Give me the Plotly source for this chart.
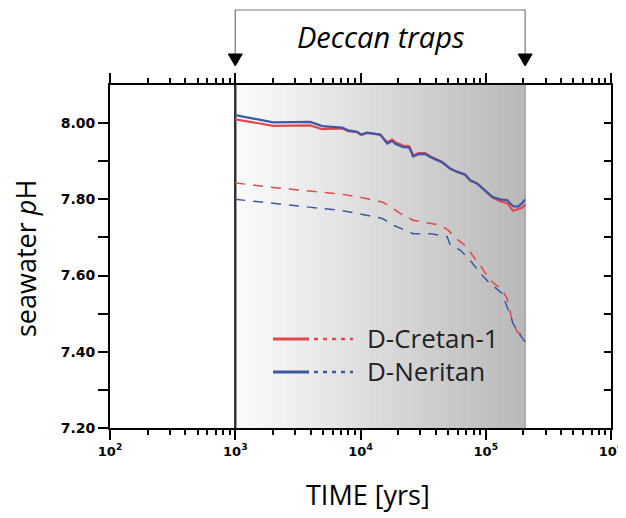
import plotly.graph_objects as go
import numpy as np

# ---------------- data ----------------
t_red_solid = [1000, 2010, 3970, 4946, 7145, 7978, 9415, 10130, 11300, 14360, 16330, 17900, 18920,
               21920, 24470, 26350, 28890, 32840, 35980, 40930, 44890, 51970, 59130, 68510, 75150,
               85410, 98900, 112500, 130300, 148200, 165500, 181500, 195000, 206300]
ph_red_solid = [8.010, 7.993, 7.994, 7.984, 7.986, 7.979, 7.976, 7.969, 7.974, 7.970, 7.950, 7.957, 7.950,
                7.941, 7.940, 7.915, 7.921, 7.921, 7.913, 7.903, 7.898, 7.880, 7.872, 7.864, 7.849,
                7.841, 7.822, 7.805, 7.795, 7.790, 7.770, 7.775, 7.778, 7.786]

t_blue_solid = t_red_solid
ph_blue_solid = [8.021, 8.002, 8.003, 7.992, 7.988, 7.981, 7.977, 7.970, 7.975, 7.970, 7.946, 7.953, 7.946,
                 7.937, 7.936, 7.912, 7.918, 7.919, 7.911, 7.903, 7.897, 7.881, 7.872, 7.865, 7.850,
                 7.842, 7.824, 7.807, 7.800, 7.798, 7.782, 7.781, 7.790, 7.800]

t_red_dash = [1000, 1583, 2286, 3426, 4767, 6886, 9415, 11950, 14890, 16630, 20740, 26350, 35980,
              43270, 50100, 59130, 71080, 77980, 90260, 108400, 135200, 148200, 162400, 178100, 206300]
ph_red_dash = [7.843, 7.835, 7.829, 7.824, 7.820, 7.814, 7.807, 7.800, 7.793, 7.785, 7.763, 7.745, 7.738,
               7.732, 7.719, 7.695, 7.675, 7.654, 7.627, 7.588, 7.562, 7.540, 7.483, 7.452, 7.439]

t_blue_dash = [1000, 1583, 2286, 3426, 4767, 6886, 9415, 11950, 14890, 16630, 18240, 26350, 35980,
               49210, 51970, 62510, 75150, 90260, 108400, 135200, 150900, 165500, 188300, 206300]
ph_blue_dash = [7.800, 7.793, 7.787, 7.782, 7.776, 7.771, 7.763, 7.757, 7.750, 7.741, 7.732, 7.710, 7.710,
                7.702, 7.680, 7.667, 7.640, 7.606, 7.579, 7.553, 7.509, 7.474, 7.444, 7.426]

series_names = ["D-Cretan-1", "D-Neritan"]
deccan_start = 1000
deccan_end = 206300
deccan_label = "Deccan traps"
x_title = "TIME [yrs]"
y_title = "seawater <i>p</i>H"

x_tick_vals = [1e2, 1e3, 1e4, 1e5, 1e6]
x_tick_text = ["10<sup>2</sup>", "10<sup>3</sup>", "10<sup>4</sup>", "10<sup>5</sup>", "10<sup>6</sup>"]
y_tick_vals = [7.2, 7.3, 7.4, 7.5, 7.6, 7.7, 7.8, 7.9, 8.0]
y_tick_text = ["7.20", "", "7.40", "", "7.60", "", "7.80", "", "8.00"]

RED = "#e2474b"
BLUE = "#3e58a4"

XR = [2, 6]
YR = [7.2, 8.1]

# page body has an 8px margin; figure is sized to fit the window
OFF = 8
W, H = 626 - OFF, 518 - OFF
ML, MT = 110 - OFF, 85 - OFF
PW, PH = 501, 343
MR = W - ML - PW
MB = H - MT - PH


def px(v):
    return (np.log10(v) - XR[0]) / (XR[1] - XR[0])


def lx(p):  # screen pixel x -> paper
    return (p - OFF - ML) / PW


def ly(p):  # screen pixel y -> paper
    return (MT + PH - (p - OFF)) / PH


fig = go.Figure()

fig.add_trace(go.Scatter(x=t_red_dash, y=ph_red_dash, mode="lines",
                         line=dict(color=RED, width=1.5, dash="10px,8px"), showlegend=False))
fig.add_trace(go.Scatter(x=t_blue_dash, y=ph_blue_dash, mode="lines",
                         line=dict(color=BLUE, width=1.5, dash="10px,8px"), showlegend=False))
fig.add_trace(go.Scatter(x=t_red_solid, y=ph_red_solid, mode="lines",
                         line=dict(color=RED, width=2.2), showlegend=False))
fig.add_trace(go.Scatter(x=t_blue_solid, y=ph_blue_solid, mode="lines",
                         line=dict(color=BLUE, width=2.2), showlegend=False))

shapes = []
# gradient shading
n = 80
a, b = px(deccan_start), px(deccan_end)
for i in range(n):
    f = (i + 0.5) / n
    g = int(round(252 - (252 - 184) * f))
    shapes.append(dict(type="rect", xref="paper", yref="paper",
                       x0=a + (b - a) * i / n, x1=a + (b - a) * (i + 1) / n + 0.001,
                       y0=0, y1=1, fillcolor=f"rgb({g},{g},{g})", line_width=0, layer="below"))
shapes.append(dict(type="line", xref="paper", yref="paper", x0=a, x1=a, y0=0, y1=1,
                   line=dict(color="#333333", width=2.5), layer="below"))
shapes.append(dict(type="line", xref="paper", yref="paper", x0=b, x1=b, y0=0, y1=1,
                   line=dict(color="#a8a8a8", width=1.5), layer="below"))

# bracket above
top_y = ly(10)
arrow_top = ly(54)
arrow_tip = ly(66)
hw = 7 / PW
shapes.append(dict(type="path", xref="paper", yref="paper",
                   path=f"M {a},{arrow_top} L {a},{top_y} L {b},{top_y} L {b},{arrow_top}",
                   line=dict(color="#777777", width=1.2)))
for xc in (a, b):
    shapes.append(dict(type="path", xref="paper", yref="paper",
                       path=f"M {xc-hw},{arrow_top} L {xc+hw},{arrow_top} L {xc},{arrow_tip} Z",
                       fillcolor="black", line=dict(color="black", width=1)))

# legend glyphs
for yy, col in ((339, RED), (372, BLUE)):
    shapes.append(dict(type="line", xref="paper", yref="paper", x0=lx(273), x1=lx(309), y0=ly(yy), y1=ly(yy),
                       line=dict(color=col, width=3)))
    shapes.append(dict(type="line", xref="paper", yref="paper", x0=lx(314), x1=lx(353), y0=ly(yy), y1=ly(yy),
                       line=dict(color=col, width=2.5, dash="4px,5px")))

title_font = dict(family="Open Sans", size=27, color="black")
annotations = [
    dict(text=f"<i>{deccan_label}</i>", xref="paper", yref="paper", x=(a + b) / 2, y=ly(37),
         showarrow=False, font=dict(family="Open Sans", size=29, color="black"),
         xanchor="center", yanchor="middle"),
    dict(text=series_names[0], xref="paper", yref="paper", x=lx(365), y=ly(338), showarrow=False,
         xanchor="left", yanchor="middle", font=dict(family="Open Sans", size=26, color="#222222")),
    dict(text=series_names[1], xref="paper", yref="paper", x=lx(365), y=ly(371), showarrow=False,
         xanchor="left", yanchor="middle", font=dict(family="Open Sans", size=26, color="#222222")),
    dict(text=x_title, xref="paper", yref="paper", x=lx(368), y=ly(494), showarrow=False,
         xanchor="center", yanchor="middle", font=title_font),
    dict(text=y_title, xref="paper", yref="paper", x=lx(25), y=ly(259), showarrow=False, textangle=-90,
         xanchor="center", yanchor="middle", font=title_font),
]

minor_vals = [k * 10 ** e for e in range(2, 6) for k in range(2, 10)]
xtickfont = dict(family="DejaVu Sans", size=13, color="black", weight="bold")
ytickfont = dict(family="DejaVu Sans", size=14, color="black", weight="bold")

common_x = dict(type="log", range=XR, showgrid=False, zeroline=False, showline=True, automargin=False,
                linecolor="black", linewidth=2, ticks="outside", ticklen=10, tickwidth=2,
                tickcolor="black", tickvals=x_tick_vals,
                minor=dict(tickvals=minor_vals, ticks="outside", ticklen=5, tickwidth=1.5, tickcolor="black",
                           showgrid=False))

fig.update_layout(
    width=W, height=H,
    margin=dict(l=ML, r=MR, t=MT, b=MB, autoexpand=False),
    paper_bgcolor="white", plot_bgcolor="white",
    shapes=shapes, annotations=annotations,
    xaxis=dict(**common_x, ticktext=x_tick_text, tickfont=xtickfont),
    xaxis2=dict(**common_x, overlaying="x", side="top", anchor="y", showticklabels=False),
    yaxis=dict(range=YR, showgrid=False, zeroline=False, showline=True, linecolor="black", linewidth=2,
               automargin=False, ticks="outside", ticklen=10, tickwidth=2, tickcolor="black",
               tickvals=y_tick_vals, ticktext=y_tick_text, tickfont=ytickfont),
    yaxis2=dict(range=YR, overlaying="y", side="right", anchor="x", showgrid=False, zeroline=False,
                automargin=False, showline=True, linecolor="black", linewidth=2, ticks="inside", ticklen=7,
                tickwidth=2, tickcolor="black", tickvals=y_tick_vals[1:], showticklabels=False),
)

fig.add_trace(go.Scatter(x=[1e2], y=[7.2], xaxis="x2", yaxis="y2", mode="markers",
                         marker=dict(opacity=0), showlegend=False, hoverinfo="skip"))

fig.write_html("out.html")
